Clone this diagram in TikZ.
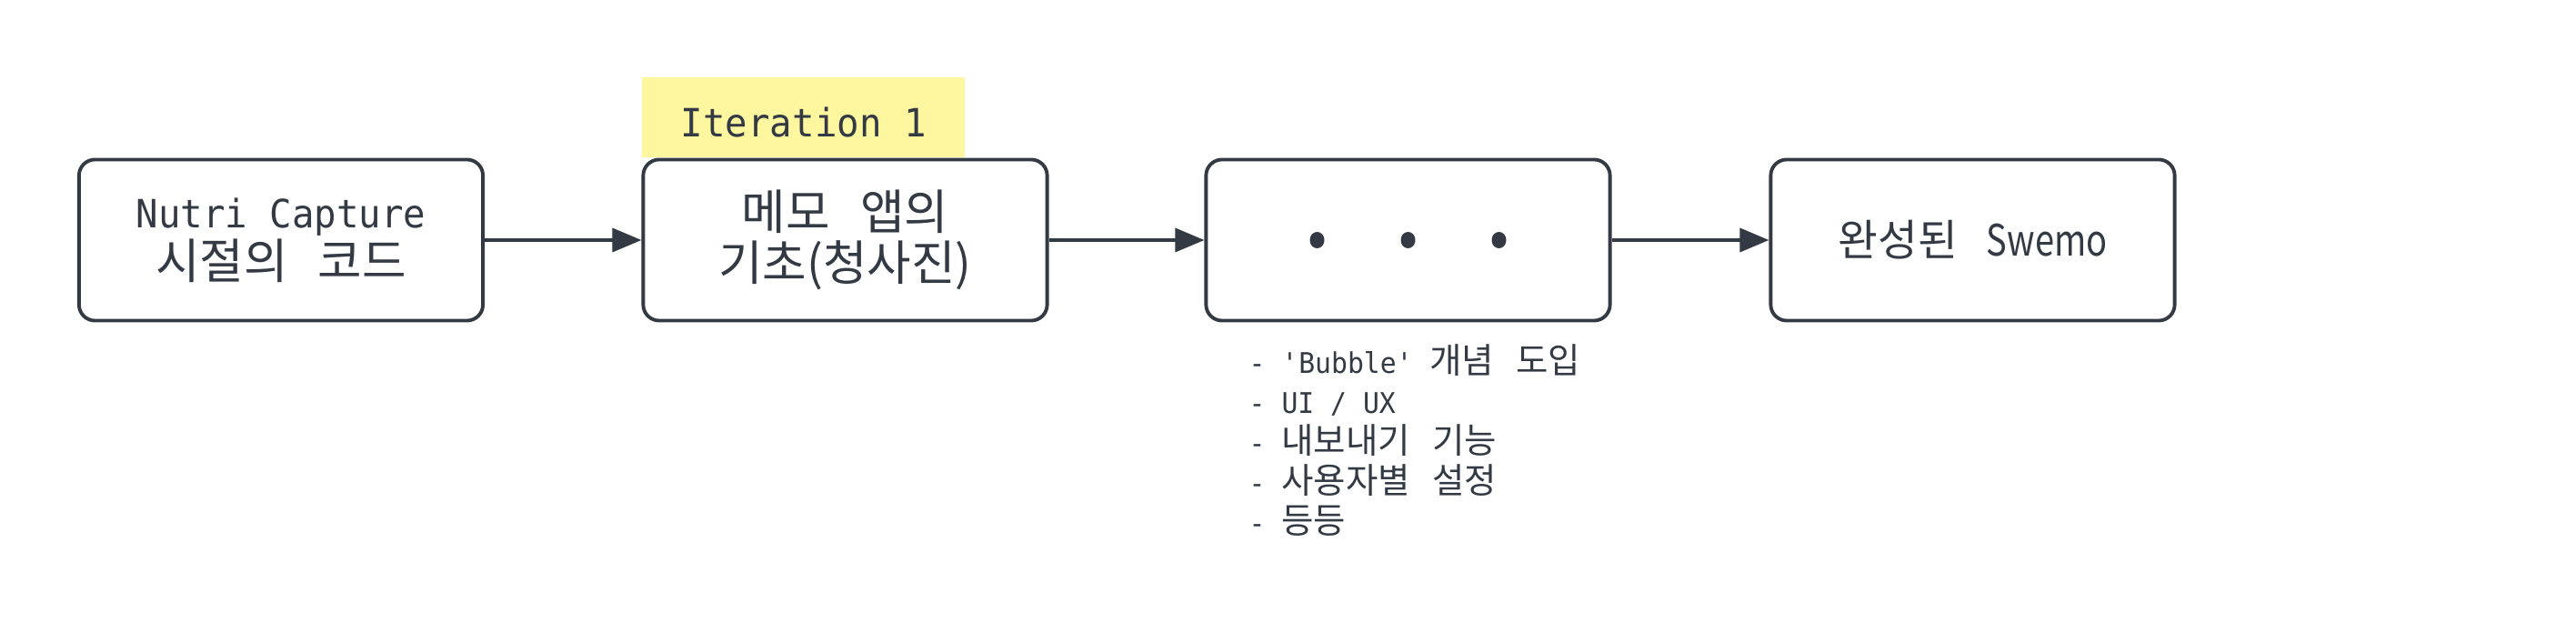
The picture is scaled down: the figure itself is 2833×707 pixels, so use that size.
\documentclass[tikz,border=0pt]{standalone}
\usepackage{fontspec}
\setmainfont{DejaVu Sans Mono}[FakeStretch=0.95]
\newfontfamily\kr{Noto Sans CJK KR}[Scale=1.23,WordSpace=2.8]
\newfontfamily\krnarrow{Noto Sans CJK KR}[Scale=1.23,FakeStretch=0.8]
\usetikzlibrary{arrows.meta,positioning,backgrounds}

\definecolor{ink}{RGB}{52,58,68}
\definecolor{notebg}{RGB}{255,246,160}

\begin{document}
\begin{tikzpicture}[
    x=0.01cm, y=-0.01cm,
    >={Triangle[length=0.32cm,width=0.26cm]},
    stagebox/.style={
        draw=ink,
        line width=1.1pt,
        rounded corners=5pt,
        fill=white,
        minimum width=4.44cm,
        minimum height=1.77cm,
        align=center,
        text=ink,
        font=\fontsize{12.2pt}{16pt}\selectfont
    },
    flowedge/.style={
        draw=ink,
        line width=1pt,
        ->
    },
    iterlabel/.style={
        fill=notebg,
        minimum width=3.55cm,
        minimum height=0.88cm,
        inner sep=0pt,
        text height=0.43cm,
        text depth=0cm,
        text=ink,
        font=\fontsize{12.2pt}{14pt}\selectfont
    },
    notelist/.style={
        align=left,
        anchor=north west,
        inner sep=0pt,
        text=ink,
        font=\fontsize{8.9pt}{12.5pt}\selectfont
    }
]

% page frame
\useasboundingbox (0,0) rectangle (2833,707);

% ============ STAGES ============
\node[stagebox] (nutri) at (309,264) {Nutri Capture\\{\kr 시절의 코드}};
\node[stagebox] (memo) at (929.5,264) {{\kr 메모 앱의}\\{\kr 기초(청사진)}};
\node[stagebox] (middle) at (1548.5,264) {};
\node[stagebox, font=\fontsize{11pt}{16pt}\selectfont] (swemo) at (2169.5,264) {{\kr 완성된}\hspace{0.32cm}{\krnarrow Swemo}};

% Iteration tag sits on top of the second box
\begin{pgfonlayer}{background}
\fill[white] (0,0) rectangle (2833,707);
\node[iterlabel, above right=0cm and 0cm of memo.north west] (iter) {Iteration 1};
\end{pgfonlayer}

% dots in the middle box
\foreach \dx in {-100,0,100} {
    \fill[ink] ([xshift=\dx*0.01cm]middle.center) ellipse (0.08cm and 0.09cm);
}

% ============ ARROWS ============
\draw[flowedge] (nutri) -- (memo);
\draw[flowedge] (memo) -- (middle);
\draw[flowedge] (middle) -- (swemo);

% ============ NOTES ============
\node[notelist] (notes) at (1373,378) {%
- \textquotesingle Bubble\textquotesingle{} {\kr 개념 도입}\\
- UI / UX\\
- {\kr 내보내기 기능}\\
- {\kr 사용자별 설정}\\
- {\kr 등등}};

\end{tikzpicture}
\end{document}
